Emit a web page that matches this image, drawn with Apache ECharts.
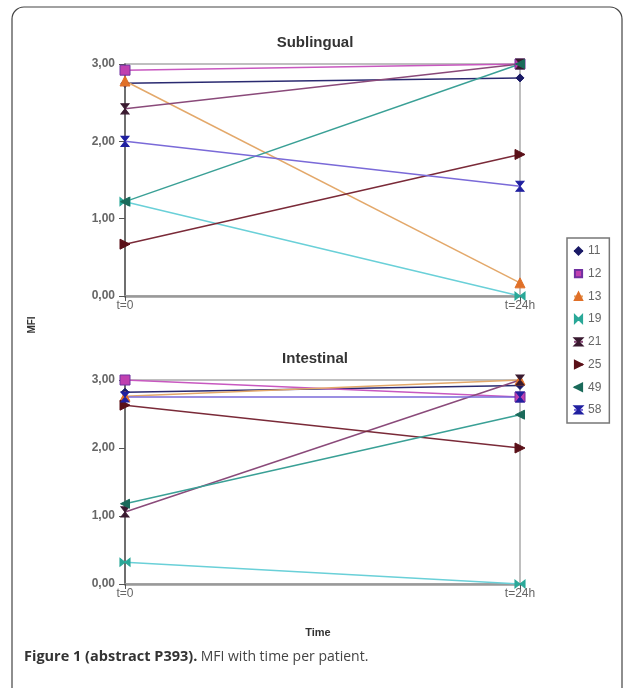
<!DOCTYPE html>
<html><head><meta charset="utf-8">
<script src="https://cdn.jsdelivr.net/npm/echarts@6/dist/echarts.min.js"></script>
<style>html,body{margin:0;padding:0;background:#fff}#c{width:631px;height:688px}</style>
</head><body><div id="c"></div>
<script>
const categories = ['t=0', 't=24h'];
const patients = ['11', '12', '13', '19', '21', '25', '49', '58'];
const yTicks = [0, 1, 2, 3];
// Sublingual values per patient [t=0, t=24h]
const subl11 = [2.75, 2.82];
const subl12 = [2.92, 3.00];
const subl13 = [2.78, 0.17];
const subl19 = [1.22, 0.00];
const subl21 = [2.42, 3.00];
const subl25 = [0.67, 1.83];
const subl49 = [1.22, 3.00];
const subl58 = [2.00, 1.42];
// Intestinal values per patient [t=0, t=24h]
const int11 = [2.82, 2.92];
const int12 = [3.00, 2.75];
const int13 = [2.76, 3.00];
const int19 = [0.32, 0.00];
const int21 = [1.06, 3.00];
const int25 = [2.63, 2.00];
const int49 = [1.18, 2.49];
const int58 = [2.75, 2.75];

const sublData = [subl11, subl12, subl13, subl19, subl21, subl25, subl49, subl58];
const intData = [int11, int12, int13, int19, int21, int25, int49, int58];

const bowtie = 'path://M0,0 L10,5 L0,10 Z M20,0 L10,5 L20,10 Z';
const hourglass = 'path://M0,0 L10,0 L5,10 Z M0,20 L10,20 L5,10 Z';
const styles = [
  {line:'#2a2a70', fill:'#1a1a66', symbol:'diamond', size:8, rot:0},
  {line:'#c858c0', fill:'#c040b0', symbol:'rect', size:10, rot:0, border:'#7030a0'},
  {line:'#e3a86a', fill:'#e07028', symbol:'triangle', size:10, rot:0},
  {line:'#6ad0d8', fill:'#2aa898', symbol:bowtie, size:[10,8], rot:0},
  {line:'#8a4a7a', fill:'#3a1a30', symbol:hourglass, size:[8,10], rot:0},
  {line:'#7a2a38', fill:'#5a1018', symbol:'triangle', size:10, rot:-90},
  {line:'#3aa096', fill:'#1a6a5a', symbol:'triangle', size:9, rot:90},
  {line:'#7a6ad8', fill:'#2020a0', symbol:hourglass, size:[8,10], rot:0}
];

const fmt = v => v.toFixed(2).replace('.', ',');
function yAx(gi){
  return {gridIndex:gi, type:'value', min:yTicks[0], max:yTicks[yTicks.length-1], interval:1,
    axisLine:{show:true, lineStyle:{color:'#555', width:1.5}},
    axisTick:{show:true, length:6, lineStyle:{color:'#555'}},
    splitLine:{show:false},
    axisLabel:{formatter:fmt, color:'#666', fontSize:12, fontWeight:'bold', fontFamily:'Arial, Liberation Sans', margin:10}};
}
function xAx(gi){
  return {gridIndex:gi, type:'category', data:categories, boundaryGap:false,
    axisLine:{show:true, onZero:false, lineStyle:{color:'#999', width:2.5}},
    axisTick:{show:true, length:5, lineStyle:{color:'#555'}},
    axisLabel:{color:'#666', fontSize:12, fontFamily:'Arial, Liberation Sans', margin:4}};
}
const series = [];
[sublData, intData].forEach((set, gi) => {
  set.forEach((vals, i) => {
    const s = styles[i];
    series.push({name:patients[i], type:'line', xAxisIndex:gi, yAxisIndex:gi, data:vals,
      symbol:s.symbol, symbolSize:s.size, symbolRotate:s.rot, showSymbol:true,
      lineStyle:{color:s.line, width:1.5},
      itemStyle:{color:s.fill, borderColor:s.border||s.fill, borderWidth:1},
      emphasis:{disabled:true}, animation:false});
  });
});

const chart = echarts.init(document.getElementById('c'), null, {renderer:'canvas'});
chart.setOption({
  animation:false,
  backgroundColor:'#fff',
  title:[
    {text:'Sublingual', left:310, top:30, textAlign:'center', textStyle:{fontSize:15, fontWeight:'bold', color:'#333', fontFamily:'Arial, Liberation Sans'}},
    {text:'Intestinal', left:310, top:346, textAlign:'center', textStyle:{fontSize:15, fontWeight:'bold', color:'#333', fontFamily:'Arial, Liberation Sans'}}
  ],
  grid:[
    {left:125, top:64, width:395, height:232, show:true, borderColor:'#aaa', borderWidth:1.5, backgroundColor:'transparent'},
    {left:125, top:380, width:395, height:204, show:true, borderColor:'#aaa', borderWidth:1.5, backgroundColor:'transparent'}
  ],
  xAxis:[xAx(0), xAx(1)],
  yAxis:[yAx(0), yAx(1)],
  legend:{orient:'vertical', left:567, top:238, data:patients, itemWidth:9, itemHeight:9, itemGap:10.7,
    padding:[7,8,7,6], borderColor:'#777', borderWidth:1.5,
    textStyle:{color:'#666', fontSize:12, fontFamily:'Arial, Liberation Sans'},
    selectedMode:false},
  series:series,
  graphic:[
    {type:'rect', shape:{x:12, y:7, width:610, height:700, r:12}, style:{fill:'none', stroke:'#444', lineWidth:1.2}, z:-1},
    {type:'text', x:32, y:325, rotation:Math.PI/2, style:{text:'MFI', fill:'#333', font:'bold 10px Arial, Liberation Sans', textAlign:'center', textVerticalAlign:'middle'}},
    {type:'text', x:318, y:633, style:{text:'Time', fill:'#333', font:'bold 11px Arial, Liberation Sans', textAlign:'center', textVerticalAlign:'middle'}},
    {type:'text', x:24, y:657, style:{text:'{b|Figure 1 (abstract P393).} {n|MFI with time per patient.}', textVerticalAlign:'middle',
      rich:{b:{font:'bold 14.5px "Open Sans", "Noto Sans", sans-serif', fill:'#333'}, n:{font:'14px "Open Sans", "Noto Sans", sans-serif', fill:'#444'}}}}
  ]
});
</script></body></html>
